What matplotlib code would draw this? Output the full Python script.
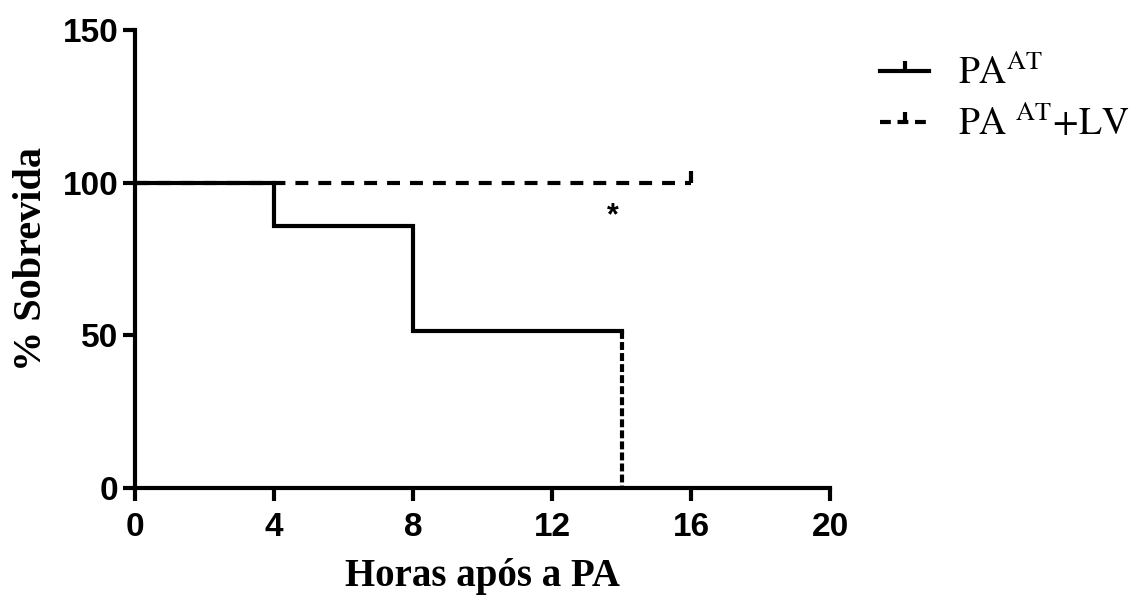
import matplotlib
matplotlib.use("Agg")
import matplotlib.pyplot as plt
from matplotlib.lines import Line2D

# survival data (Kaplan-Meier, % survival)
t_at = [0, 4, 8, 14]
s_at = [100, 85.7, 51.4, 0]

t_lv = [0, 16]
s_lv = [100, 100]
censor_lv = [16]

xticks = [0, 4, 8, 12, 16, 20]
yticks = [0, 50, 100, 150]

plt.rcParams['mathtext.fontset'] = 'stix'

fig = plt.figure(figsize=(11.32, 5.95), dpi=100)
ax = fig.add_axes([0.1193, 0.18, 0.614, 0.7697])

lw = 3.0
# PA^AT + LV dashed line
ax.plot(t_lv, s_lv, color='black', lw=lw, ls=(0, (3.1, 2.4)),
        drawstyle='steps-post', dash_capstyle='butt')
# censored mark (tick up)
ax.plot(censor_lv, [s_lv[-1]] * len(censor_lv), ls='none', marker=2,
        ms=9, mew=lw, color='black')

# PA^AT solid steps (last drop drawn dashed)
ax.plot(t_at, s_at[:-1] + [s_at[-2]], color='black', lw=lw,
        drawstyle='steps-post', solid_joinstyle='miter')
ax.plot([t_at[-1], t_at[-1]], [s_at[-2], s_at[-1]], color='black', lw=lw,
        ls=(0, (1.9, 0.75)), dash_capstyle='butt')

ax.text(13.75, 89, '*', fontsize=22, ha='center', va='center',
        family='Liberation Sans', fontweight='bold')

ax.set_xlim(0, 20)
ax.set_ylim(0, 150)
ax.set_xticks(xticks)
ax.set_yticks(yticks)
for s in ['top', 'right']:
    ax.spines[s].set_visible(False)
for s in ['left', 'bottom']:
    ax.spines[s].set_linewidth(3)
    ax.spines[s].set_capstyle('projecting')
ax.tick_params(width=3, length=9, direction='out')
ax.tick_params(axis='y', pad=3)
ax.tick_params(axis='x', pad=8)
for lab in ax.get_xticklabels() + ax.get_yticklabels():
    lab.set_fontfamily('Liberation Sans')
    lab.set_fontweight('bold')
    lab.set_fontsize(24)

ax.set_xlabel('Horas após a PA', family='Liberation Serif', fontweight='bold',
              fontsize=28, labelpad=11)
ax.set_ylabel('% Sobrevida', family='Liberation Serif', fontweight='bold',
              fontsize=29, labelpad=9)

handles = [Line2D([], [], color='black', lw=lw, marker=2, ms=7, mew=lw),
           Line2D([], [], color='black', lw=lw, ls=(0, (2.6, 1.6)),
                  marker=2, ms=7, mew=lw)]
labels = [r'PA$^{\mathrm{AT}}$', r'PA $^{\mathrm{AT}}$+LV']
leg = fig.legend(handles, labels, loc='upper left', bbox_to_anchor=(0.777, 0.906),
                 frameon=False, handlelength=1.33, handletextpad=0.75,
                 labelspacing=0.36, borderpad=0, borderaxespad=0, numpoints=1,
                 prop={'family': 'STIXGeneral', 'size': 27})

fig.savefig('out.png', dpi=100)
